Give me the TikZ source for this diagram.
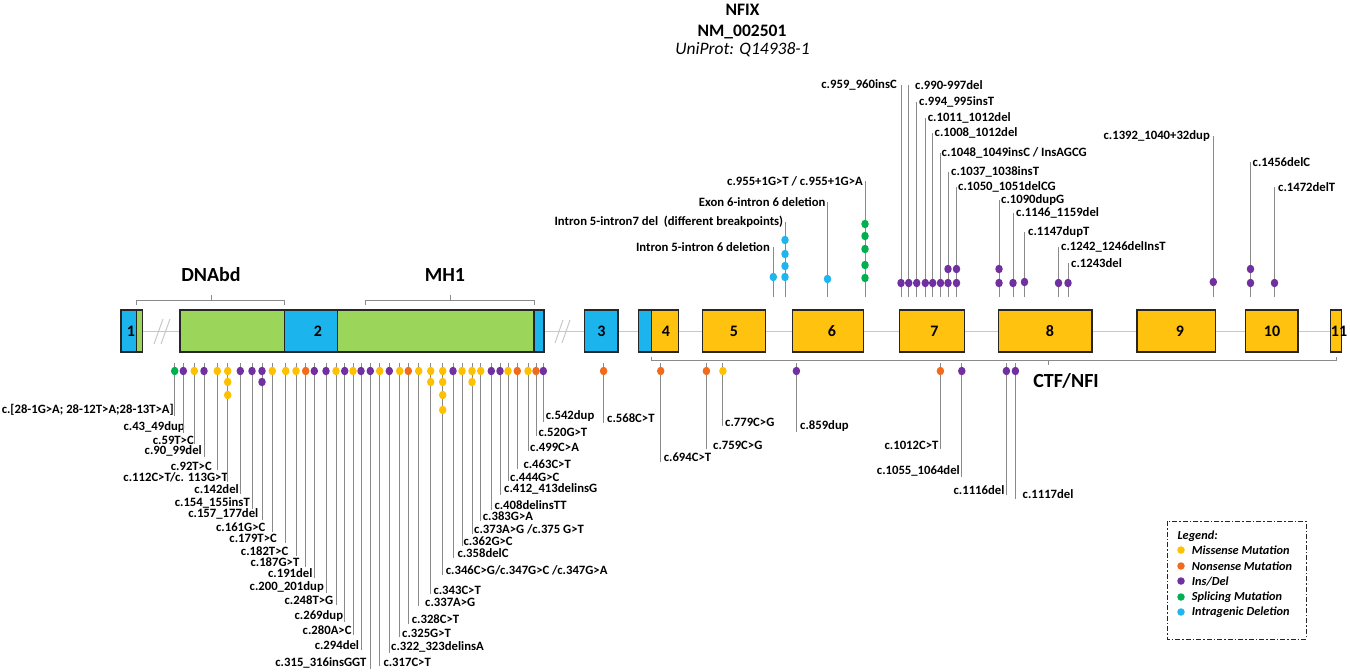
\documentclass[tikz,border=0pt]{standalone}
\usepackage{fontspec}
\setmainfont{Carlito}
\usetikzlibrary{shapes.geometric}
\definecolor{myyel}{HTML}{FFC000}
\definecolor{myorg}{HTML}{F26A1B}
\definecolor{mypur}{HTML}{7030A0}
\definecolor{mygrn}{HTML}{00B050}
\definecolor{myblu}{HTML}{1FB5EE}
\definecolor{exblu}{HTML}{1CB4EC}
\definecolor{exgrn}{HTML}{9BD55A}
\definecolor{exyel}{HTML}{FFC20E}
\definecolor{lngray}{HTML}{8A8A8A}
\definecolor{intgray}{HTML}{C8C8C8}
\definecolor{exline}{HTML}{262626}
\newcounter{dc}
\newcommand\mutdot[3]{\stepcounter{dc}\node[mdot,fill=#3] (dot\arabic{dc}) at (#1,#2) {};}
\newcommand\mutBL[5]{\coordinate (#1s) at (#2,363);\node[lbl,anchor=east] (#1) at (#3,#4) {#5};\draw[conn] (#1s) -- (#1s |- #1.south);}
\newcommand\mutBR[5]{\coordinate (#1s) at (#2,363);\node[lbl,anchor=west] (#1) at (#3,#4) {#5};\draw[conn] (#1s) -- (#1s |- #1.south);}
\newcommand\mutTL[5]{\coordinate (#1s) at (#2,297);\node[lbl,anchor=east] (#1) at (#3,#4) {#5};\draw[conn] (#1s) -- (#1s |- #1.east);}
\newcommand\mutTR[5]{\coordinate (#1s) at (#2,297);\node[lbl,anchor=west] (#1) at (#3,#4) {#5};\draw[conn] (#1s) -- (#1s |- #1.west);}
\tikzset{
  lbl/.style={font=\bfseries\fontsize{12.7}{13}\selectfont, inner sep=0pt, text=black},
  conn/.style={draw=lngray, line width=0.9pt},
  mdot/.style={ellipse, inner sep=0pt, minimum width=7.5pt, minimum height=8.5pt, draw=none},
  exon/.style={draw=exline, line width=1.2pt},
  exnum/.style={font=\bfseries\fontsize{16}{16}\selectfont, inner sep=0pt},
  brk/.style={draw=lngray, line width=0.9pt},
  dom/.style={font=\bfseries\fontsize{20}{20}\selectfont, inner sep=0pt},
  legtxt/.style={font=\bfseries\itshape\fontsize{12.3}{12.3}\selectfont, inner sep=0pt, anchor=west},
  legdot/.style={circle, inner sep=0pt, minimum size=7.5pt, draw=none}
}
\begin{document}
\begin{tikzpicture}[x=1pt,y=-1pt]
\useasboundingbox (0,0) rectangle (1350,672);
% title
\node[font=\bfseries\fontsize{17.5}{17.5}\selectfont, inner sep=0pt] (title1) at (742.5,10) {NFIX};
\node[font=\bfseries\fontsize{17.5}{17.5}\selectfont, inner sep=0pt] (title2) at (742,32) {NM\_002501};
\node[font=\itshape\fontsize{17.5}{17.5}\selectfont, inner sep=0pt] (title3) at (742.5,50) {UniProt: Q14938-1};
% intron line
\draw[draw=intgray, line width=1pt] (121,331) -- (1341,331);
\draw[draw=intgray, line width=1pt] (154,344) -- (163,319) (161,344) -- (170,319);
\draw[draw=intgray, line width=1pt] (555,343) -- (563,320) (562,343) -- (570,320);
% exon 1
\fill[exblu] (121,310) rectangle (136.7,352);
\fill[exgrn] (136.7,310) rectangle (142.7,352);
\draw[exon] (121,310) rectangle (142.7,352) (136.7,310) -- (136.7,352);
\node[exnum] (e1) at (131,331) {1};
% exon 2
\fill[exgrn] (180,310) rectangle (284.3,352);
\fill[exblu] (284.3,310) rectangle (337.7,352);
\fill[exgrn] (337.7,310) rectangle (534,352);
\fill[exblu] (534,310) rectangle (544,352);
\draw[exon] (180,310) rectangle (544,352) (284.3,310) -- (284.3,352) (337.7,310) -- (337.7,352) (534,310) -- (534,352);
\node[exnum] (e2) at (318,331) {2};
% exon 3
\fill[exblu] (584.8,310) rectangle (618,352);
\draw[exon] (584.8,310) rectangle (618,352);
\node[exnum] (e3) at (601.4,331) {3};
% exon 4
\fill[exblu] (638.4,310) rectangle (651.2,352);
\fill[exyel] (651.2,310) rectangle (678.8,352);
\draw[exon] (638.4,310) rectangle (678.8,352) (651.2,310) -- (651.2,352);
\node[exnum] (e4) at (666,331) {4};
% exons 5-11
\fill[exyel] (702.4,310) rectangle (765.7,352);
\draw[exon] (702.4,310) rectangle (765.7,352);
\node[exnum] (e5) at (734,331) {5};
\fill[exyel] (792.3,310) rectangle (863.4,352);
\draw[exon] (792.3,310) rectangle (863.4,352);
\node[exnum] (e6) at (832,331) {6};
\fill[exyel] (899.2,310) rectangle (964.1,352);
\draw[exon] (899.2,310) rectangle (964.1,352);
\node[exnum] (e7) at (934.5,331) {7};
\fill[exyel] (998.4,310) rectangle (1092,352);
\draw[exon] (998.4,310) rectangle (1092,352);
\node[exnum] (e8) at (1050,331) {8};
\fill[exyel] (1137,310) rectangle (1215.6,352);
\draw[exon] (1137,310) rectangle (1215.6,352);
\node[exnum] (e9) at (1180,331) {9};
\fill[exyel] (1245.3,310) rectangle (1298,352);
\draw[exon] (1245.3,310) rectangle (1298,352);
\node[exnum] (e10) at (1272,331) {10};
\fill[exyel] (1330.7,310) rectangle (1341.4,352);
\draw[exon] (1330.7,310) rectangle (1341.4,352);
\node[exnum] (e11) at (1339,331) {11};
% domain brackets
\draw[brk] (136.7,305) -- (136.7,300.5) -- (284.3,300.5) -- (284.3,305) (211,300.5) -- (211,295);
\node[dom] (dnabd) at (211,275) {DNAbd};
\draw[brk] (365.7,305) -- (365.7,300.5) -- (534,300.5) -- (534,305) (450,300.5) -- (450,295);
\node[dom] (mh1) at (445,275) {MH1};
\draw[brk] (651.2,356.5) -- (651.2,360) -- (1336,360) -- (1336,356.5) (1048.5,360) -- (1048.5,365);
\node[dom] (ctf) at (1066,381) {CTF/NFI};
% ---- bottom left mutations
\mutBL{b1}{174.7}{174}{410}{c.[28-1G>A; 28-12T>A;28-13T>A]}
\mutBL{b2}{183.3}{185}{427}{c.43\_49dup}
\mutBL{b3}{194.3}{194}{440}{c.59T>C}
\mutBL{b4}{204}{202}{451}{c.90\_99del}
\mutBL{b5}{217.3}{212}{466}{c.92T>C}
\mutBL{b6}{227.7}{228}{477}{c.112C>T/c. 113G>T}
\mutBL{b7}{240.3}{239}{489}{c.142del}
\mutBL{b8}{252}{250}{503}{c.154\_155insT}
\mutBL{b9}{262}{258.5}{514}{c.157\_177del}
\mutBL{b10}{272.3}{265.5}{527}{c.161G>C}
\mutBL{b11}{285.7}{277}{538.5}{c.179T>C}
\mutBL{b12}{296}{288.5}{551}{c.182T>C}
\mutBL{b13}{305.7}{299.5}{562}{c.187G>T}
\mutBL{b14}{314.3}{312.7}{573}{c.191del}
\mutBL{b15}{326}{324}{587}{c.200\_201dup}
\mutBL{b16}{336}{333.5}{600}{c.248T>G}
\mutBL{b17}{344.7}{343.3}{616}{c.269dup}
\mutBL{b18}{353}{351.7}{630}{c.280A>C}
\mutBL{b19}{361}{359.3}{645}{c.294del}
\mutBL{b20}{370.3}{366.7}{663}{c.315\_316insGGT}
\mutBR{b21}{379.7}{383.3}{662}{c.317C>T}
\mutBR{b22}{389.3}{391}{647}{c.322\_323delinsA}
\mutBR{b23}{399.7}{402}{633}{c.325G>T}
\mutBR{b24}{408.3}{411.7}{619}{c.328C>T}
\mutBR{b25}{418.7}{425}{602}{c.337A>G}
\mutBR{b26}{430.7}{433.3}{590}{c.343C>T}
\mutBR{b27}{442.7}{445.7}{570}{c.346C>G/c.347G>C /c.347G>A}
\mutBR{b28}{453}{457.3}{553}{c.358delC}
\mutBR{b29}{462}{463.3}{541.5}{c.362G>C}
\mutBR{b30}{472}{474}{529}{c.373A>G /c.375 G>T}
\mutBR{b31}{480.7}{482.7}{516}{c.383G>A}
\mutBR{b32}{491.3}{494.3}{505}{c.408delinsTT}
\mutBR{b33}{500}{504}{489}{c.412\_413delinsG}
\mutBR{b34}{508}{510}{477}{c.444G>C}
\mutBR{b35}{517.3}{523.3}{464}{c.463C>T}
\mutBR{b36}{528}{530}{447}{c.499C>A}
\mutBR{b37}{536}{538.3}{432}{c.520G>T}
\mutBR{b38}{543.3}{545.7}{416}{c.542dup}
% bottom right
\mutBR{r1}{603.6}{607}{418}{c.568C>T}
\mutBR{r2}{660.7}{663.6}{457}{c.694C>T}
\mutBR{r3}{706.4}{713}{445}{c.759C>G}
\mutBR{r4}{722.9}{725}{422}{c.779C>G}
\mutBR{r5}{796.4}{800}{426}{c.859dup}
\mutBL{r6}{940.4}{938.6}{445}{c.1012C>T}
\mutBL{r7}{961.8}{960}{471}{c.1055\_1064del}
\mutBL{r8}{1006.4}{1004.6}{490}{c.1116del}
\mutBR{r9}{1015.4}{1022.5}{494}{c.1117del}
% top
\mutTL{t1}{901}{897}{85}{c.959\_960insC}
\mutTR{t2}{908.7}{915}{85}{c.990-997del}
\mutTR{t3}{916.7}{919}{102}{c.994\_995insT}
\mutTR{t4}{925.3}{927.7}{118}{c.1011\_1012del}
\mutTR{t5}{932.7}{934.5}{133}{c.1008\_1012del}
\mutTR{t6}{940.5}{941.5}{153}{c.1048\_1049insC / InsAGCG}
\mutTR{t7}{948}{951}{172}{c.1037\_1038insT}
\mutTR{t8}{956.5}{958}{187}{c.1050\_1051delCG}
\mutTR{t9}{999}{1001}{200}{c.1090dupG}
\mutTR{t10}{1013}{1016}{213}{c.1146\_1159del}
\mutTR{t11}{1024.5}{1028}{232}{c.1147dupT}
\mutTR{t12}{1058.5}{1061}{247}{c.1242\_1246delInsT}
\mutTR{t13}{1068}{1071}{263}{c.1243del}
\mutTL{t14}{1213.3}{1210}{136}{c.1392\_1040+32dup}
\mutTR{t15}{1250.5}{1252.5}{162}{c.1456delC}
\mutTR{t16}{1274.5}{1278}{187}{c.1472delT}
\mutTL{t17}{865}{863}{181}{c.955+1G>T / c.955+1G>A}
\mutTL{t18}{827.5}{825.7}{202}{Exon 6-intron 6 deletion}
\mutTL{t19}{785}{783.3}{222}{Intron 5-intron7 del\ \ (different breakpoints)}
\mutTL{t20}{773.3}{770}{247}{Intron 5-intron 6 deletion}
% ---- dots bottom left
\mutdot{174.7}{371}{mygrn}
\mutdot{183.3}{371}{mypur}
\mutdot{194.3}{371}{myyel}
\mutdot{204}{371}{mypur}
\mutdot{217.3}{371}{myyel}
\mutdot{227.7}{371}{myyel}\mutdot{227.7}{382}{myyel}\mutdot{227.7}{395}{myyel}
\mutdot{240.3}{371}{mypur}
\mutdot{252}{371}{mypur}
\mutdot{262}{371}{mypur}\mutdot{262}{382}{mypur}
\mutdot{272.3}{371}{myyel}
\mutdot{285.7}{371}{myyel}
\mutdot{296}{371}{myyel}
\mutdot{305.7}{371}{myorg}
\mutdot{314.3}{371}{mypur}
\mutdot{326}{371}{mypur}
\mutdot{336}{371}{myyel}
\mutdot{344.7}{371}{mypur}
\mutdot{353}{371}{myyel}
\mutdot{361}{371}{mypur}
\mutdot{370.3}{371}{mypur}
\mutdot{379.7}{371}{myyel}
\mutdot{389.3}{371}{mypur}
\mutdot{399.7}{371}{myyel}
\mutdot{408.3}{371}{myorg}
\mutdot{418.7}{371}{myyel}
\mutdot{430.7}{371}{myyel}\mutdot{430.7}{382}{myyel}
\mutdot{442.7}{371}{myyel}\mutdot{442.7}{382}{myyel}\mutdot{442.7}{395}{myyel}\mutdot{442.7}{410}{myyel}
\mutdot{453}{371}{mypur}
\mutdot{462}{371}{myyel}
\mutdot{472}{371}{myyel}\mutdot{472}{382}{myyel}
\mutdot{480.7}{371}{myyel}
\mutdot{491.3}{371}{mypur}
\mutdot{500}{371}{mypur}
\mutdot{508}{371}{myyel}
\mutdot{517.3}{371}{myorg}
\mutdot{528}{371}{myyel}
\mutdot{536}{371}{myorg}
\mutdot{543.3}{371}{mypur}
% dots bottom right
\mutdot{603.6}{371}{myorg}
\mutdot{660.7}{371}{myorg}
\mutdot{706.4}{371}{myorg}
\mutdot{722.9}{371}{myyel}
\mutdot{796.4}{371}{mypur}
\mutdot{940.4}{371}{myorg}
\mutdot{961.8}{371}{mypur}
\mutdot{1006.4}{371}{mypur}
\mutdot{1015.4}{371}{mypur}
% dots top
\mutdot{901}{283}{mypur}
\mutdot{908.7}{283}{mypur}
\mutdot{916.7}{283}{mypur}
\mutdot{925.3}{283}{mypur}
\mutdot{932.7}{283}{mypur}
\mutdot{940.5}{283}{mypur}
\mutdot{948}{283}{mypur}\mutdot{948}{269}{mypur}
\mutdot{956.5}{283}{mypur}\mutdot{956.5}{269}{mypur}
\mutdot{999}{283}{mypur}\mutdot{999}{269}{mypur}
\mutdot{1013}{283}{mypur}
\mutdot{1024.5}{282}{mypur}
\mutdot{1058.5}{283}{mypur}
\mutdot{1068}{283}{mypur}
\mutdot{1213.3}{282}{mypur}
\mutdot{1250.5}{283}{mypur}\mutdot{1250.5}{269}{mypur}
\mutdot{1274.5}{283}{mypur}
\mutdot{865}{278}{mygrn}\mutdot{865}{265}{mygrn}\mutdot{865}{249}{mygrn}\mutdot{865}{236}{mygrn}\mutdot{865}{224}{mygrn}
\mutdot{827.5}{279}{myblu}
\mutdot{785}{277}{myblu}\mutdot{785}{266}{myblu}\mutdot{785}{254}{myblu}\mutdot{785}{240}{myblu}
\mutdot{773.3}{277}{myblu}
% legend
\draw[draw=exline, line width=0.9pt, dash pattern=on 5pt off 2pt on 1.5pt off 2pt] (1167.3,521) rectangle (1306,639.3);
\node[legtxt] (legh) at (1177.3,536) {Legend:};
\node[legdot, fill=myyel] (ld1) at (1181,550) {};
\node[legtxt] (lt1) at (1191.7,550) {Missense Mutation};
\node[legdot, fill=myorg] (ld2) at (1181,566) {};
\node[legtxt] (lt2) at (1191.7,566) {Nonsense Mutation};
\node[legdot, fill=mypur] (ld3) at (1181,581) {};
\node[legtxt] (lt3) at (1191.7,581) {Ins/Del};
\node[legdot, fill=mygrn] (ld4) at (1181,597) {};
\node[legtxt] (lt4) at (1191.7,597) {Splicing Mutation};
\node[legdot, fill=myblu] (ld5) at (1181,612) {};
\node[legtxt] (lt5) at (1191.7,612) {Intragenic Deletion};
\end{tikzpicture}
\end{document}
